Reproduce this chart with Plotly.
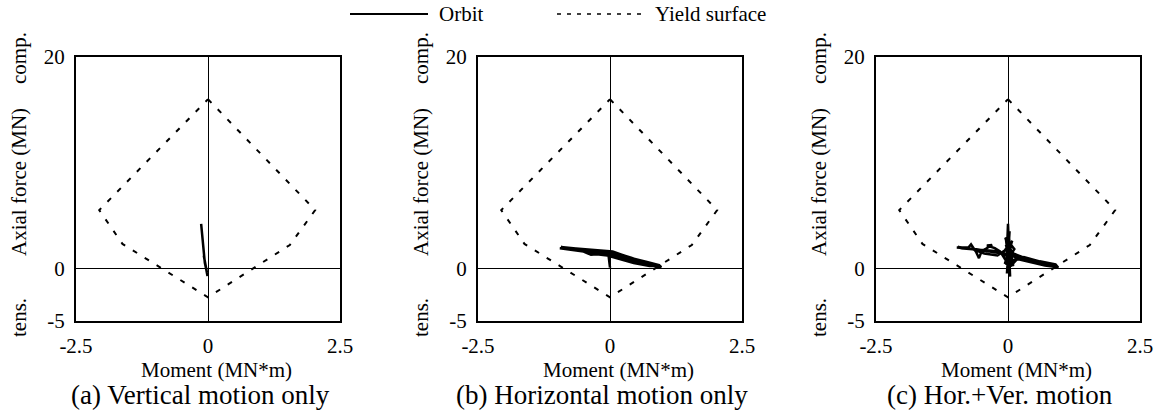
import plotly.graph_objects as go

W, H = 1161, 414
FONT = "Liberation Serif"

def px(xw):
    return xw / W

def py(yw):
    return 1 - yw / H

# ---- data ----
yield_m = [0.0, 2.03, 1.55, 0.0, -1.62, -2.06, 0.0]
yield_n = [16.0, 5.5, 2.2, -2.75, 2.3, 5.5, 16.0]

orbit_a_m = [-0.13, -0.11, -0.09, -0.08, -0.06, -0.03, -0.01, -0.02, -0.05, -0.08, -0.06, -0.03, -0.01, -0.02]
orbit_a_n = [4.2, 3.0, 1.9, 1.1, 0.5, -0.2, -0.75, -0.3, 0.4, 1.2, 0.8, 0.1, -0.6, -0.4]

orbit_b_m = [0.0, -0.03, 0.05, 0.25, 0.5, 0.75, 0.95,
             0.75, 0.45, 0.15, -0.05, -0.25, -0.36, -0.5, -0.75, -0.95,
             -0.7, -0.4, -0.15, 0.05, 0.22, 0.45, 0.7, 0.93, 0.97,
             0.7, 0.4, 0.1, -0.2, -0.5, -0.8, -0.93,
             -0.6, -0.2, 0.1, 0.4, 0.7, 0.92,
             0.8, 0.5, 0.2, -0.1, -0.45, -0.9,
             -0.55, -0.3, 0.0, 0.3, 0.6, 0.85, 0.96,
             0.75, 0.5, 0.25, 0.0, -0.35, -0.7, -0.92]
orbit_b_n = [0.05, 1.3, 1.5, 1.15, 0.8, 0.5, 0.2,
             0.22, 0.5, 0.92, 1.2, 1.32, 1.27, 1.58, 1.72, 1.88,
             1.9, 1.78, 1.7, 1.58, 1.28, 0.9, 0.6, 0.3, 0.1,
             0.3, 0.7, 1.1, 1.45, 1.65, 1.85, 2.0,
             1.85, 1.68, 1.45, 1.0, 0.45, 0.08,
             0.35, 0.72, 1.15, 1.5, 1.7, 1.95,
             1.62, 1.45, 1.35, 1.0, 0.62, 0.32, 0.18,
             0.45, 0.82, 1.05, 1.3, 1.52, 1.78, 1.9]

orbit_c_m = [0.0, 0.02, -0.02, 0.03, -0.03, 0.0, 0.04, -0.04, 0.05, 0.02, -0.02, 0.08, -0.06, 0.12, -0.05, 0.1,
             0.0, 0.06, -0.04, 0.1, 0.3, 0.55, 0.8, 0.95,
             0.7, 0.4, 0.15, 0.05, -0.05, -0.15, -0.25, -0.4, -0.3, -0.5, -0.55, -0.6, -0.7, -0.75, -0.97,
             -0.7, -0.45, -0.2, 0.0, 0.05, 0.2, 0.5, 0.75, 0.92, 0.55, 0.3, 0.0, -0.3, -0.6, -0.95,
             -0.5, -0.1, 0.01, 0.03, 0.3, 0.6, 0.9, 0.95,
             0.6, 0.35, 0.12, -0.02, 0.08, -0.2, -0.55, -0.9]
orbit_c_n = [0.0, 2.5, -0.5, 3.5, 0.3, 4.2, -0.8, 2.8, 0.5, 3.0, 1.0, 2.6, 0.4, 1.8, 2.9, 0.2,
             3.3, 0.6, 2.2, 1.4, 1.0, 0.7, 0.35, 0.08,
             0.25, 0.6, 0.9, 1.5, 0.8, 1.6, 1.9, 2.15, 2.2, 1.6, 0.95, 1.5, 2.25, 1.95, 1.95,
             1.85, 1.4, 1.2, 1.9, 0.2, 1.0, 0.7, 0.5, 0.2, 0.55, 0.8, 1.3, 1.55, 1.8, 2.0,
             1.7, 1.4, 2.2, 0.6, 1.05, 0.65, 0.35, 0.05,
             0.45, 0.75, 1.15, 2.4, 0.9, 1.6, 1.75, 1.9]

panels = [
    (orbit_a_m, orbit_a_n, "(a) Vertical motion only"),
    (orbit_b_m, orbit_b_n, "(b) Horizontal motion only"),
    (orbit_c_m, orbit_c_n, "(c) Hor.+Ver. motion"),
]

x_ticks = [-2.5, 0, 2.5]
x_ticktext = ["-2.5", "0", "2.5"]
y_ticks = [-5, 0, 20]
y_ticktext = ["-5", "0", "20"]

# ---- layout geometry (pixels) ----
lefts = [76, 478, 876]
pw = 264
top, bottom = 57, 321

fig = go.Figure()
annotations = []
shapes = []

for i, (om, on, cap) in enumerate(panels):
    ax = "" if i == 0 else str(i + 1)
    fig.add_trace(go.Scatter(x=yield_m, y=yield_n, mode="lines",
                             line=dict(color="black", width=2, dash="5px,9px"),
                             xaxis="x" + ax, yaxis="y" + ax, showlegend=False, hoverinfo="skip"))
    fig.add_trace(go.Scatter(x=om, y=on, mode="lines",
                             line=dict(color="black", width=2.5),
                             xaxis="x" + ax, yaxis="y" + ax, showlegend=False))
    l = lefts[i]
    xd = [px(l), px(l + pw)]
    yd = [py(bottom), py(top)]
    common = dict(showgrid=False, showline=True, linecolor="black", linewidth=2, mirror=True,
                  zeroline=True, zerolinecolor="black", zerolinewidth=1, automargin=False,
                  ticks="outside", ticklen=5, tickcolor="rgba(0,0,0,0)",
                  tickfont=dict(family=FONT, size=21, color="black"), fixedrange=True)
    fig.layout["xaxis" + ax] = dict(domain=xd, range=[-2.5, 2.5], anchor="y" + ax,
                                   tickvals=x_ticks, ticktext=x_ticktext, **common)
    fig.layout["yaxis" + ax] = dict(domain=yd, range=[-5, 20], anchor="x" + ax,
                                   tickvals=y_ticks, ticktext=y_ticktext, **common)
    cxw = l + pw / 2
    annotations.append(dict(text="Moment (MN*m)", x=px(cxw + 8), y=py(370), xref="paper", yref="paper",
                            showarrow=False, font=dict(family=FONT, size=21, color="black"),
                            xanchor="center", yanchor="middle"))
    annotations.append(dict(text=cap, x=px(cxw - 8), y=py(395), xref="paper", yref="paper",
                            showarrow=False, font=dict(family=FONT, size=27, color="black"),
                            xanchor="center", yanchor="middle"))
    for txt, yy in [("comp.", 58), ("Axial force (MN)", 182), ("tens.", 318)]:
        annotations.append(dict(text=txt, x=px(l - 57), y=py(yy), xref="paper", yref="paper",
                                showarrow=False, textangle=-90,
                                font=dict(family=FONT, size=21, color="black"),
                                xanchor="center", yanchor="middle"))

# legend
shapes.append(dict(type="line", xref="paper", yref="paper", x0=px(350), x1=px(428),
                   y0=py(14), y1=py(14), line=dict(color="black", width=2)))
annotations.append(dict(text="Orbit", x=px(437), y=py(14), xref="paper", yref="paper",
                        showarrow=False, xanchor="left", yanchor="middle",
                        font=dict(family=FONT, size=21, color="black")))
shapes.append(dict(type="line", xref="paper", yref="paper", x0=px(557), x1=px(642),
                   y0=py(14), y1=py(14), line=dict(color="black", width=1.5, dash="4px,6px")))
annotations.append(dict(text="Yield surface", x=px(653), y=py(14), xref="paper", yref="paper",
                        showarrow=False, xanchor="left", yanchor="middle",
                        font=dict(family=FONT, size=21, color="black")))

fig.update_layout(width=W, height=H, margin=dict(l=0, r=0, t=0, b=0, autoexpand=False),
                  paper_bgcolor="white", plot_bgcolor="white",
                  annotations=annotations, shapes=shapes, showlegend=False)

fig.write_html("out.html", config={"displayModeBar": False})
